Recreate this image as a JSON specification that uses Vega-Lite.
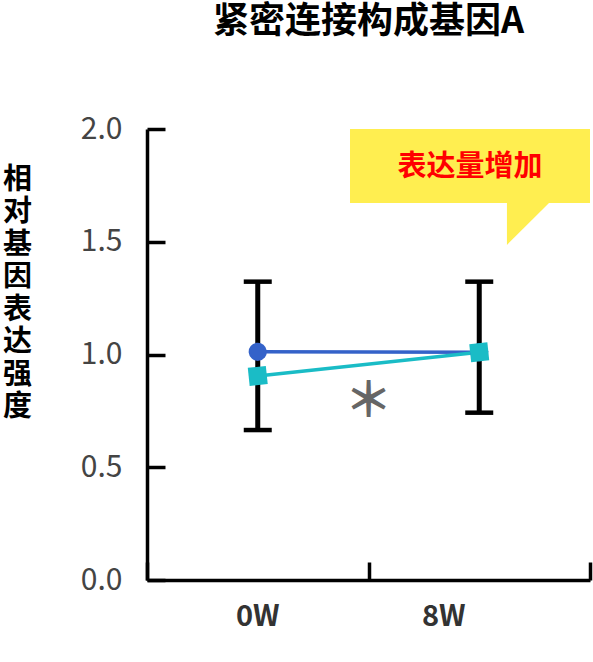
{
  "$schema": "https://vega.github.io/schema/vega-lite/v6.json",
  "autosize": "none",
  "width": 443,
  "height": 451,
  "padding": {"left": 147, "top": 129, "right": 3, "bottom": 82},
  "background": "white",
  "title": {
    "text": "紧密连接构成基因A",
    "font": "Noto Sans CJK SC",
    "fontSize": 36,
    "fontWeight": "bold",
    "color": "#000000",
    "anchor": "middle",
    "baseline": "bottom",
    "offset": 37
  },
  "config": {
    "view": {"stroke": null},
    "axis": {
      "domainColor": "#000000",
      "domainWidth": 3.5,
      "tickColor": "#000000",
      "tickWidth": 3.5,
      "tickSize": -18,
      "grid": false,
      "labelFont": "Noto Sans CJK SC",
      "titleFont": "Noto Sans CJK SC"
    }
  },
  "datasets": {
    "series": [
      {"week": 0.5, "value": 1.012, "group": "A"},
      {"week": 1.5, "value": 1.01, "group": "A"},
      {"week": 0.5, "value": 0.905, "group": "B"},
      {"week": 1.5, "value": 1.01, "group": "B"}
    ],
    "errors": [
      {"week": 0.5, "low": 0.665, "high": 1.323},
      {"week": 1.5, "low": 0.742, "high": 1.323}
    ],
    "weeks": [
      {"week": 0.5, "label": "0W"},
      {"week": 1.34, "label": "8W"}
    ],
    "box": [
      {"x": 0.9165, "x2": 2.0, "y": 2.0, "y2": 1.672}
    ],
    "tail": [
      {"x": 1.625, "top": 1.672, "bottom": 1.486},
      {"x": 1.815, "top": 1.672, "bottom": 1.672}
    ],
    "note": [
      {"x": 1.458, "y": 1.83, "text": "表达量增加"}
    ],
    "star": [
      {"x": 1.0, "y": 0.8, "text": "＊"}
    ]
  },
  "encoding": {
    "x": {
      "type": "quantitative",
      "scale": {"domain": [0, 2], "nice": false, "zero": false},
      "axis": {"values": [0, 1, 2], "labels": false, "title": null}
    },
    "y": {
      "type": "quantitative",
      "scale": {"domain": [0, 2], "nice": false},
      "axis": {
        "values": [0, 0.5, 1, 1.5, 2],
        "format": ".1f",
        "labelFontSize": 30,
        "labelColor": "#444444",
        "labelPadding": 43,
        "title": ["相", "对", "基", "因", "表", "达", "强", "度"],
        "titleFontSize": 29,
        "titleFontWeight": "bold",
        "titleColor": "#000000",
        "titleAngle": 0,
        "titleLineHeight": 32.5,
        "titleAlign": "center",
        "titleBaseline": "top",
        "titleX": -130,
        "titleY": 36
      }
    }
  },
  "layer": [
    {
      "data": {"name": "box"},
      "mark": {"type": "rect", "color": "#FFEE50"},
      "encoding": {
        "x": {"field": "x", "type": "quantitative"},
        "x2": {"field": "x2"},
        "y": {"field": "y", "type": "quantitative"},
        "y2": {"field": "y2"}
      }
    },
    {
      "data": {"name": "tail"},
      "mark": {"type": "area", "color": "#FFEE50", "interpolate": "linear"},
      "encoding": {
        "x": {"field": "x", "type": "quantitative"},
        "y": {"field": "top", "type": "quantitative"},
        "y2": {"field": "bottom"}
      }
    },
    {
      "data": {"name": "note"},
      "mark": {
        "type": "text",
        "font": "Noto Sans CJK SC",
        "fontSize": 29,
        "fontWeight": "bold",
        "color": "#FF0000",
        "baseline": "middle",
        "align": "center"
      },
      "encoding": {
        "x": {"field": "x", "type": "quantitative"},
        "y": {"field": "y", "type": "quantitative"},
        "text": {"field": "text"}
      }
    },
    {
      "data": {"name": "errors"},
      "mark": {"type": "rule", "color": "#000000", "strokeWidth": 5},
      "encoding": {
        "x": {"field": "week", "type": "quantitative"},
        "y": {"field": "low", "type": "quantitative"},
        "y2": {"field": "high"}
      }
    },
    {
      "data": {"name": "errors"},
      "mark": {"type": "tick", "orient": "horizontal", "color": "#000000", "size": 28, "thickness": 4.5, "opacity": 1},
      "encoding": {
        "x": {"field": "week", "type": "quantitative"},
        "y": {"field": "low", "type": "quantitative"}
      }
    },
    {
      "data": {"name": "errors"},
      "mark": {"type": "tick", "orient": "horizontal", "color": "#000000", "size": 28, "thickness": 4.5, "opacity": 1},
      "encoding": {
        "x": {"field": "week", "type": "quantitative"},
        "y": {"field": "high", "type": "quantitative"}
      }
    },
    {
      "data": {"name": "series"},
      "mark": {"type": "line", "strokeWidth": 3.5},
      "encoding": {
        "x": {"field": "week", "type": "quantitative"},
        "y": {"field": "value", "type": "quantitative"},
        "color": {
          "field": "group",
          "type": "nominal",
          "scale": {"domain": ["A", "B"], "range": ["#3462C9", "#1ABCC6"]},
          "legend": null
        },
        "detail": {"field": "group"}
      }
    },
    {
      "data": {"name": "series"},
      "mark": {"type": "point", "filled": true, "opacity": 1, "size": 330, "angle": -6},
      "encoding": {
        "x": {"field": "week", "type": "quantitative"},
        "y": {"field": "value", "type": "quantitative"},
        "color": {
          "field": "group",
          "type": "nominal",
          "scale": {"domain": ["A", "B"], "range": ["#3462C9", "#1ABCC6"]},
          "legend": null
        },
        "shape": {
          "field": "group",
          "type": "nominal",
          "scale": {"domain": ["A", "B"], "range": ["circle", "square"]},
          "legend": null
        }
      }
    },
    {
      "data": {"name": "star"},
      "mark": {
        "type": "text",
        "font": "Noto Sans CJK JP",
        "fontSize": 48,
        "fontWeight": "bold",
        "color": "#666666",
        "baseline": "middle",
        "align": "center",
        "dy": 3
      },
      "encoding": {
        "x": {"field": "x", "type": "quantitative"},
        "y": {"field": "y", "type": "quantitative"},
        "text": {"field": "text"}
      }
    },
    {
      "data": {"name": "weeks"},
      "mark": {
        "type": "text",
        "font": "Noto Sans CJK SC",
        "fontSize": 29,
        "fontWeight": "bold",
        "color": "#333333",
        "baseline": "middle",
        "align": "center"
      },
      "encoding": {
        "x": {"field": "week", "type": "quantitative"},
        "y": {"datum": -0.164, "type": "quantitative"},
        "text": {"field": "label"}
      }
    }
  ]
}
